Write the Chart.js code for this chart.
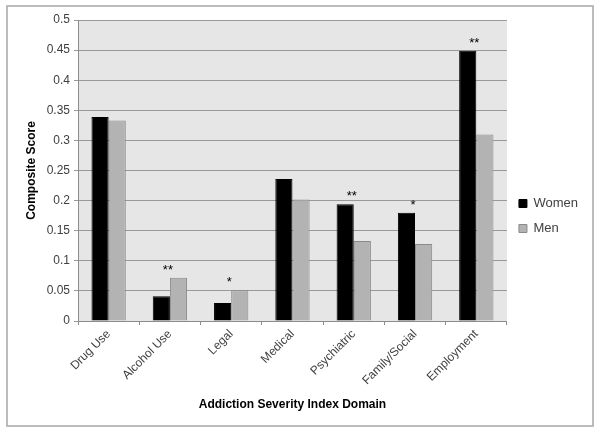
<!DOCTYPE html>
<html>
<head>
<meta charset="utf-8">
<script src="https://cdn.jsdelivr.net/npm/chart.js@4/dist/chart.umd.min.js"></script>
<style>
html,body{margin:0;padding:0;background:#fff;}
#wrap{width:600px;height:432px;position:relative;}
</style>
</head>
<body>
<div id="wrap"><canvas id="c" width="600" height="432"></canvas></div>
<script>
const categories = ['Drug Use','Alcohol Use','Legal','Medical','Psychiatric','Family/Social','Employment'];
const women = [0.339, 0.041, 0.030, 0.236, 0.194, 0.180, 0.449];
const men = [0.333, 0.072, 0.051, 0.202, 0.133, 0.128, 0.310];
const significance = ['', '**', '*', '', '**', '*', '**'];
const yTicks = [0, 0.05, 0.1, 0.15, 0.2, 0.25, 0.3, 0.35, 0.4, 0.45, 0.5];

const FONT = "'Liberation Sans', Arial, sans-serif";

const framePlugin = {
  id: 'frame',
  beforeDraw(chart) {
    const ctx = chart.ctx;
    ctx.save();
    ctx.fillStyle = '#ffffff';
    ctx.fillRect(0, 0, chart.width, chart.height);
    ctx.strokeStyle = '#a6a6a6';
    ctx.lineWidth = 1.5;
    ctx.strokeRect(7, 6, 586, 420);
    const a = chart.chartArea;
    ctx.fillStyle = '#e6e6e6';
    ctx.fillRect(a.left, a.top, a.right - a.left, a.bottom - a.top);
    ctx.restore();
  },
  afterDatasetsDraw(chart) {
    const ctx = chart.ctx;
    const xs = chart.scales.x, ys = chart.scales.y;
    ctx.save();
    ctx.fillStyle = '#000';
    ctx.font = '13px ' + FONT;
    ctx.textAlign = 'center';
    ctx.textBaseline = 'alphabetic';
    significance.forEach((s, i) => {
      if (!s) return;
      const x = xs.getPixelForValue(i) - 2;
      const y = ys.getPixelForValue(Math.max(women[i], men[i])) - 4;
      ctx.fillText(s, x, y);
    });
    ctx.restore();
  }
};

new Chart(document.getElementById('c'), {
  type: 'bar',
  data: {
    labels: categories,
    datasets: [
      { label: 'Women', data: women, backgroundColor: '#000000', borderColor: '#000000', borderWidth: 1 },
      { label: 'Men', data: men, backgroundColor: '#b3b3b3', borderColor: '#8a8a8a', borderWidth: 1 }
    ]
  },
  options: {
    responsive: false,
    animation: false,
    devicePixelRatio: 1,
    layout: { padding: { top: 20, bottom: 20, left: 24, right: 12 } },
    datasets: { bar: { barPercentage: 1.0, categoryPercentage: 0.56 } },
    plugins: {
      legend: {
        position: 'right',
        labels: {
          boxWidth: 8, boxHeight: 8, padding: 12,
          color: '#404040',
          font: { family: FONT, size: 13 }
        }
      },
      tooltip: { enabled: false }
    },
    scales: {
      x: {
        offset: true,
        grid: { display: true, drawOnChartArea: false, drawTicks: true, tickLength: 4, color: '#8c8c8c', offset: true },
        border: { display: true, color: '#8c8c8c' },
        ticks: { minRotation: 45, maxRotation: 45, color: '#404040', font: { family: FONT, size: 12 }, padding: 2 },
        title: { display: true, text: 'Addiction Severity Index Domain', color: '#000', font: { family: FONT, size: 12, weight: 'bold' }, padding: { top: 4, bottom: 0 } },
        afterFit(s) { s.height = 91; }
      },
      y: {
        min: 0, max: 0.5,
        afterBuildTicks(s) { s.ticks = yTicks.map(v => ({ value: v })); },
        grid: { color: '#999999', tickLength: 4, drawTicks: true },
        border: { display: true, color: '#8c8c8c' },
        ticks: { color: '#404040', font: { family: FONT, size: 12 }, padding: 4, callback: v => String(v) },
        title: { display: true, text: 'Composite Score', color: '#000', font: { family: FONT, size: 12, weight: 'bold' }, padding: { top: 0, bottom: 4 } },
        afterFit(s) { s.width = 54; }
      }
    }
  },
  plugins: [framePlugin]
});
</script>
</body>
</html>
